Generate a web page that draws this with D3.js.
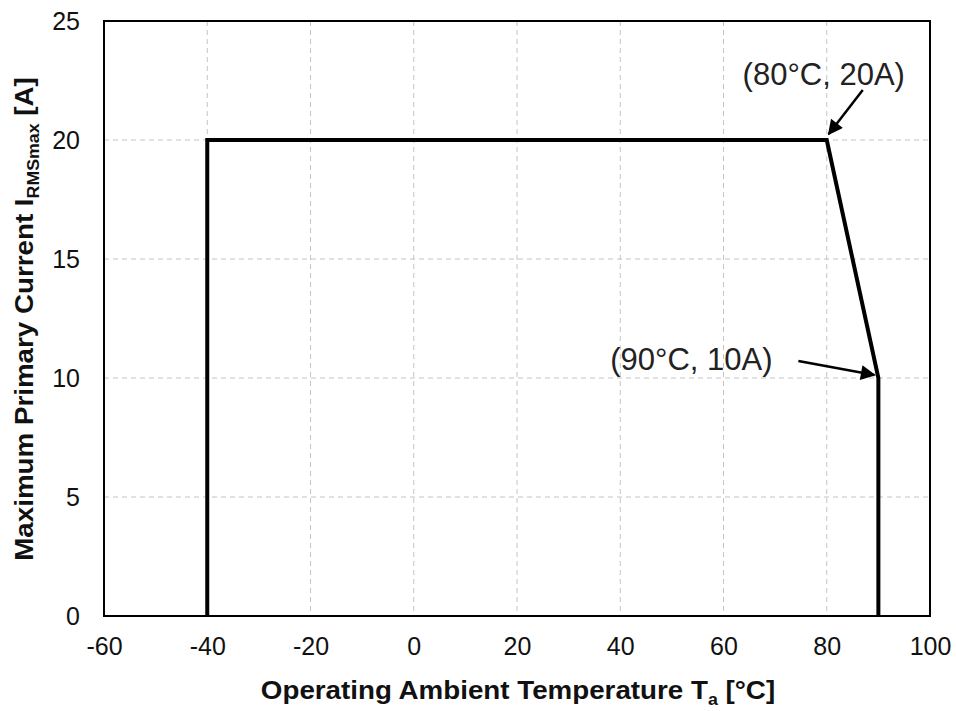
<!DOCTYPE html>
<html>
<head>
<meta charset="utf-8">
<script src="https://cdn.jsdelivr.net/npm/d3@7"></script>
<style>
  body { margin: 0; background: #fff; }
  text { font-family: Arial, "Liberation Sans", sans-serif; }
</style>
</head>
<body>
<svg width="956" height="711"></svg>
<script>
// derating curve
const tempC = [-40, -40, 80, 90, 90];
const currentA = [0, 20, 20, 10, 0];
const xTicks = [-60, -40, -20, 0, 20, 40, 60, 80, 100];
const yTicks = [0, 5, 10, 15, 20, 25];
const notes = [
  { x: 80, y: 20, label: '(80°C, 20A)' },
  { x: 90, y: 10, label: '(90°C, 10A)' }
];

const svg = d3.select('svg');
const margin = { left: 104, top: 21, right: 26, bottom: 95 };
const width = 956 - margin.left - margin.right;
const height = 711 - margin.top - margin.bottom;

const g = svg.append('g')
  .attr('transform', `translate(${margin.left},${margin.top})`);

const x = d3.scaleLinear().domain([-60, 100]).range([0, width]);
const y = d3.scaleLinear().domain([0, 25]).range([height, 0]);

// grid
g.selectAll('.vgrid').data(xTicks.slice(1, -1)).join('line')
  .attr('x1', d => x(d)).attr('x2', d => x(d))
  .attr('y1', 0).attr('y2', height)
  .attr('stroke', '#c4c4c4').attr('stroke-width', 1)
  .attr('stroke-dasharray', '5,4');
g.selectAll('.hgrid').data(yTicks.slice(1, -1)).join('line')
  .attr('x1', 0).attr('x2', width)
  .attr('y1', d => y(d)).attr('y2', d => y(d))
  .attr('stroke', '#c4c4c4').attr('stroke-width', 1)
  .attr('stroke-dasharray', '5,4');

// frame
g.append('rect')
  .attr('width', width).attr('height', height)
  .attr('fill', 'none').attr('stroke', '#000').attr('stroke-width', 2);

// axes (labels only), plain hyphen minus like the original
const fmt = d => String(d);
const xAxis = g.append('g')
  .attr('transform', `translate(0,${height})`)
  .call(d3.axisBottom(x).tickValues(xTicks).tickSize(0).tickPadding(21).tickFormat(fmt));
const yAxis = g.append('g')
  .call(d3.axisLeft(y).tickValues(yTicks).tickSize(0).tickPadding(24).tickFormat(fmt));
[xAxis, yAxis].forEach(a => {
  a.select('.domain').remove();
  a.selectAll('text').attr('font-size', 25).attr('fill', '#111')
    .attr('font-family', 'Arial, "Liberation Sans", sans-serif');
});

// curve
const pts = tempC.map((t, i) => [t, currentA[i]]);
g.append('path')
  .datum(pts)
  .attr('d', d3.line().x(d => x(d[0])).y(d => y(d[1])))
  .attr('fill', 'none').attr('stroke', '#000').attr('stroke-width', 4)
  .attr('stroke-linejoin', 'miter');

// arrows
svg.append('defs').append('marker')
  .attr('id', 'arr').attr('viewBox', '0 0 10 10')
  .attr('refX', 9).attr('refY', 5)
  .attr('markerWidth', 7).attr('markerHeight', 6)
  .attr('orient', 'auto')
  .append('path').attr('d', 'M0,0 L10,5 L0,10 z').attr('fill', '#000');

const n1 = notes[0], n2 = notes[1];
g.append('text').attr('x', x(n1.x) - 3).attr('y', y(n1.y) - 55)
  .attr('text-anchor', 'middle').attr('font-size', 31).attr('fill', '#222')
  .text(n1.label);
g.append('line')
  .attr('x1', x(n1.x) + 36).attr('y1', y(n1.y) - 50)
  .attr('x2', x(n1.x) + 2).attr('y2', y(n1.y) - 6)
  .attr('stroke', '#000').attr('stroke-width', 2.5)
  .attr('marker-end', 'url(#arr)');

g.append('text').attr('x', x(n2.x) - 187).attr('y', y(n2.y) - 8)
  .attr('text-anchor', 'middle').attr('font-size', 31).attr('fill', '#222')
  .text(n2.label);
g.append('line')
  .attr('x1', x(n2.x) - 80).attr('y1', y(n2.y) - 17)
  .attr('x2', x(n2.x) - 4).attr('y2', y(n2.y) - 3)
  .attr('stroke', '#000').attr('stroke-width', 2.5)
  .attr('marker-end', 'url(#arr)');

// axis titles
const xt = svg.append('text')
  .attr('transform', `translate(${margin.left + width / 2 + 1},699) scale(1.11,1)`)
  .attr('text-anchor', 'middle').attr('font-size', 25).attr('font-weight', 'bold').attr('fill', '#111');
xt.append('tspan').text('Operating Ambient Temperature T');
xt.append('tspan').attr('font-size', 16).attr('dy', 6).text('a');
xt.append('tspan').attr('dy', -6).text(' [°C]');

const yt = svg.append('text')
  .attr('transform', `translate(33,319) rotate(-90) scale(1.11,1)`)
  .attr('text-anchor', 'middle').attr('font-size', 25).attr('font-weight', 'bold').attr('fill', '#111');
yt.append('tspan').text('Maximum Primary Current I');
yt.append('tspan').attr('font-size', 16).attr('dy', 6).text('RMSmax');
yt.append('tspan').attr('dy', -6).text(' [A]');
</script>
</body>
</html>
